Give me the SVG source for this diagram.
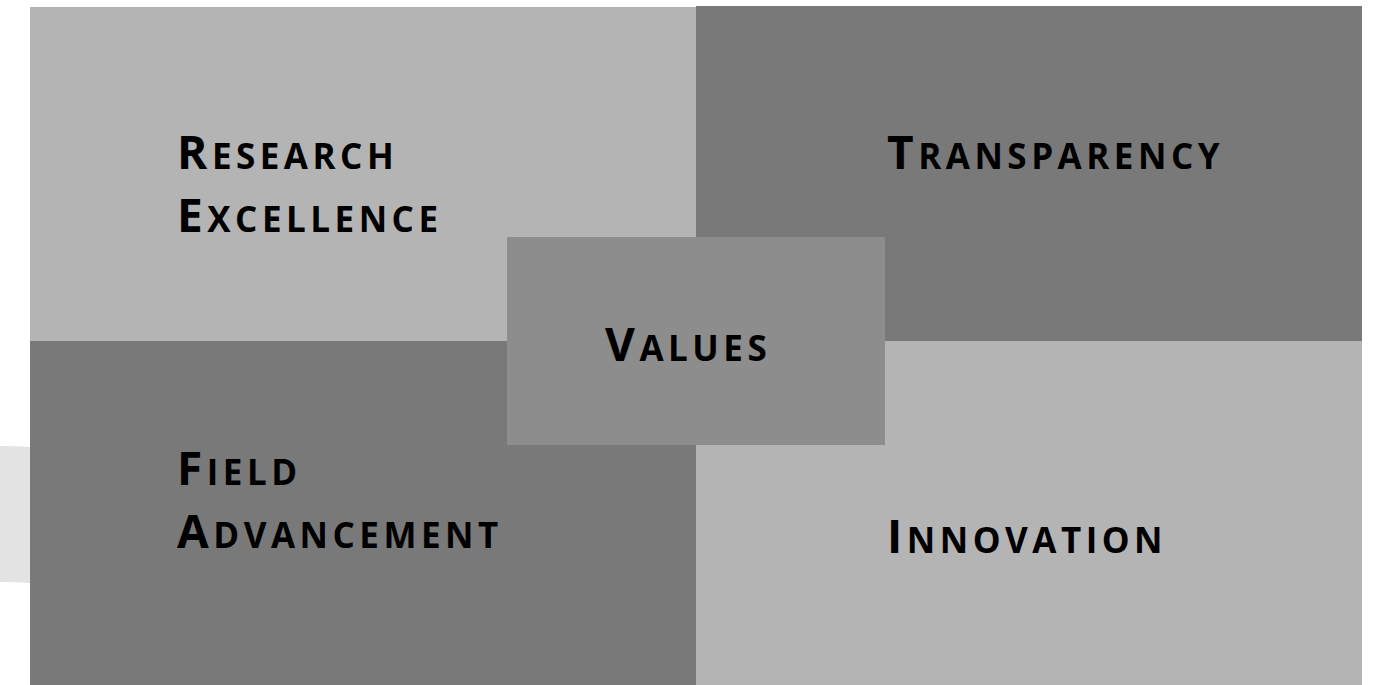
<svg xmlns="http://www.w3.org/2000/svg" width="1373" height="685" viewBox="0 0 1373 685">
<style>
.lt{fill:#b4b4b4}.dk{fill:#797979}.ct{fill:#8d8d8d}
.t{font-family:"Open Sans","Liberation Sans",sans-serif;font-weight:700;fill:#000;font-size:35px;letter-spacing:4.5px}
.b{font-size:46px}
</style>
<rect width="1373" height="685" fill="#fff"/>
<path d="M0,446 Q15,446 30,447 L30,583 Q15,582 0,582 Z" fill="#e3e3e3"/>
<g id="research-excellence">
<rect class="lt" x="30" y="7" width="666" height="334"/>
<text class="t" x="177" y="169"><tspan class="b">R</tspan>ESEARCH</text>
<text class="t" x="177" y="232"><tspan class="b">E</tspan>XCELLENCE</text>
</g>
<g id="transparency">
<rect class="dk" x="696" y="6" width="666" height="335"/>
<text class="t" x="887" y="169"><tspan class="b">T</tspan>RANSPARENCY</text>
</g>
<g id="field-advancement">
<rect class="dk" x="30" y="341" width="666" height="344"/>
<text class="t" x="177" y="485"><tspan class="b">F</tspan>IELD</text>
<text class="t" x="177" y="548"><tspan class="b">A</tspan>DVANCEMENT</text>
</g>
<g id="innovation">
<rect class="lt" x="696" y="341" width="666" height="344"/>
<text class="t" x="887" y="553"><tspan class="b">I</tspan>NNOVATION</text>
</g>
<g id="values">
<rect class="ct" x="507" y="237" width="378" height="208"/>
<text class="t" x="605" y="361"><tspan class="b">V</tspan>ALUES</text>
</g>
<g id="connectors"></g>
</svg>
